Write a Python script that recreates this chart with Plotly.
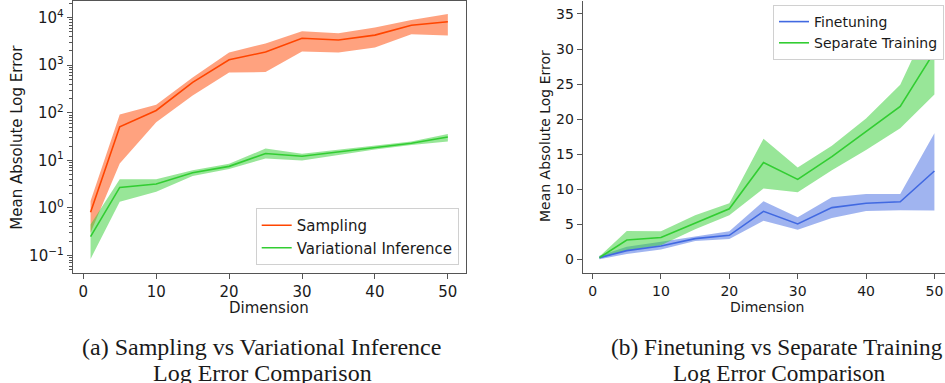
import plotly.graph_objects as go

W, H = 945, 383

# ---------------- data ----------------
dims = [1, 5, 10, 15, 20, 25, 30, 35, 40, 45, 50]

sampling_mean = [0.81, 51, 112, 436, 1300, 1900, 3700, 3400, 4300, 6900, 8200]
sampling_upper = [1.4, 92, 148, 550, 1850, 2870, 5200, 4700, 6200, 8900, 12000]
sampling_lower = [0.3, 8.6, 63, 230, 700, 720, 1950, 1850, 2350, 4500, 4200]

vi_mean = [0.25, 2.7, 3.2, 5.5, 7.5, 14, 12.2, 15, 19, 23, 31]
vi_upper = [0.45, 4.0, 4.0, 6.2, 8.5, 17.7, 13.8, 17, 21, 25, 36]
vi_lower = [0.085, 1.35, 2.2, 4.7, 6.6, 11, 10, 13, 17, 21, 25]

ft_mean = [0.24, 1.24, 1.9, 2.95, 3.42, 6.85, 5.04, 7.37, 8.0, 8.2, 12.6]
ft_upper = [0.5, 1.8, 2.5, 3.2, 4.0, 8.3, 6.0, 8.85, 9.3, 9.3, 18.0]
ft_lower = [0.0, 0.76, 1.4, 2.6, 2.9, 5.5, 4.2, 5.9, 6.9, 7.0, 6.95]

st_mean = [0.24, 2.76, 3.1, 5.2, 7.2, 13.8, 11.4, 14.65, 18.2, 21.8, 29.6]
st_upper = [0.4, 4.04, 4.0, 6.3, 8.0, 17.2, 13.1, 16.2, 20.1, 24.9, 35.3]
st_lower = [0.1, 1.3, 2.0, 4.3, 6.3, 10.1, 9.55, 12.7, 15.6, 18.7, 23.5]

log_tickvals = [0.1, 1, 10, 100, 1000, 10000]
log_ticktext = ["10<sup>\u22121</sup>", "10<sup>0</sup>", "10<sup>1</sup>",
                "10<sup>2</sup>", "10<sup>3</sup>", "10<sup>4</sup>"]
x_ticks = [0, 10, 20, 30, 40, 50]
lin_y_ticks = [0, 5, 10, 15, 20, 25, 30, 35]

# ---------------- styles ----------------
ORANGE = "#FF4500"
ORANGE_FILL = "rgba(255,69,0,0.5)"
GREEN = "#32CD32"
GREEN_FILL = "rgba(50,205,50,0.5)"
BLUE = "#4169E1"
BLUE_FILL = "rgba(65,105,225,0.5)"
FONT = "DejaVu Sans"
SPINE = "#555555"

# minor tick positions for the log axis (2..9 within each decade)
minor_log = [m * 10 ** e for e in range(-2, 5) for m in range(2, 10)]

fig = go.Figure()


def band(x, lo, hi, color, xa, ya):
    fig.add_trace(go.Scatter(
        x=list(x) + list(x)[::-1], y=list(hi) + list(lo)[::-1],
        fill="toself", fillcolor=color, line=dict(width=0),
        mode="lines", showlegend=False, hoverinfo="skip",
        xaxis=xa, yaxis=ya))


def line(x, y, color, name, xa, ya, legend):
    fig.add_trace(go.Scatter(
        x=x, y=y, mode="lines", line=dict(color=color, width=1.6),
        name=name, xaxis=xa, yaxis=ya, legend=legend))


# left panel
band(dims, sampling_lower, sampling_upper, ORANGE_FILL, "x", "y")
band(dims, vi_lower, vi_upper, GREEN_FILL, "x", "y")
line(dims, sampling_mean, ORANGE, "Sampling", "x", "y", "legend")
line(dims, vi_mean, GREEN, "Variational Inference", "x", "y", "legend")

# right panel
band(dims, ft_lower, ft_upper, BLUE_FILL, "x2", "y2")
band(dims, st_lower, st_upper, GREEN_FILL, "x2", "y2")
line(dims, ft_mean, BLUE, "Finetuning", "x2", "y2", "legend2")
line(dims, st_mean, GREEN, "Separate Training", "x2", "y2", "legend2")

ybot = 1 - 272.7 / H
ytop = 1 - 1.0 / H

axis_common = dict(showgrid=False, zeroline=False, showline=True,
                   linecolor=SPINE, linewidth=1, ticks="outside",
                   tickcolor=SPINE, ticklen=5, tickwidth=1)

fig.update_layout(
    width=W, height=H, margin=dict(l=0, r=0, t=0, b=0),
    paper_bgcolor="white", plot_bgcolor="white",
    font=dict(family=FONT, color="#1a1a1a"),
    xaxis=dict(domain=[72.7 / W, 465.7 / W], range=[-1.45, 52.45],
               tickvals=x_ticks, mirror=True, anchor="y",
               tickfont=dict(size=15), ticklabelstandoff=0, **axis_common),
    yaxis=dict(domain=[ybot, ytop], type="log", range=[-1.36, 4.35],
               tickvals=log_tickvals, ticktext=log_ticktext, mirror=True,
               anchor="x", tickfont=dict(size=15),
               minor=dict(tickmode="array", tickvals=minor_log,
                          ticks="outside", ticklen=2.5, tickcolor=SPINE,
                          showgrid=False),
               **axis_common),
    xaxis2=dict(domain=[582.7 / W, 1.0], range=[-1.45, 51.55],
                tickvals=x_ticks, anchor="y2",
                tickfont=dict(size=14), ticklabelstandoff=0, **axis_common),
    yaxis2=dict(domain=[ybot, ytop], range=[-1.91, 36.85],
                tickvals=lin_y_ticks, anchor="x2",
                tickfont=dict(size=14), **axis_common),
    legend=dict(x=458.7 / W, xanchor="right", y=1 - 265 / H, yanchor="bottom",
                bgcolor="white", bordercolor="#d0d0d0", borderwidth=1,
                font=dict(size=15, family=FONT, color="#1a1a1a")),
    legend2=dict(x=944 / W, xanchor="right", y=1 - 5 / H, yanchor="top",
                 bgcolor="white", bordercolor="#d0d0d0", borderwidth=1,
                 font=dict(size=14, family=FONT, color="#1a1a1a")),
)


def ann(text, x, y, size, family=FONT, angle=0):
    fig.add_annotation(text=text, x=x / W, y=1 - y / H, xref="paper",
                       yref="paper", showarrow=False, textangle=angle,
                       xanchor="center", yanchor="middle",
                       font=dict(size=size, family=family, color="#1a1a1a"))


# axis titles
ann("Dimension", 269, 308, 15)
ann("Dimension", 767, 307, 14)
ann("Mean Absolute Log Error", 16.7, 137, 15, angle=-90)
ann("Mean Absolute Log Error", 545, 136, 14, angle=-90)

# captions
SERIF = "Liberation Serif"
ann("(a) Sampling vs Variational Inference", 261, 347, 24, SERIF)
ann("Log Error Comparison", 262, 373, 24, SERIF)
ann("(b) Finetuning vs Separate Training", 777, 347, 23.3, SERIF)
ann("Log Error Comparison", 779, 373, 23.3, SERIF)

fig.write_html("out.html", config={"displayModeBar": False},
               post_script="document.body.style.margin='0';"
                           "document.body.style.overflow='hidden';")
